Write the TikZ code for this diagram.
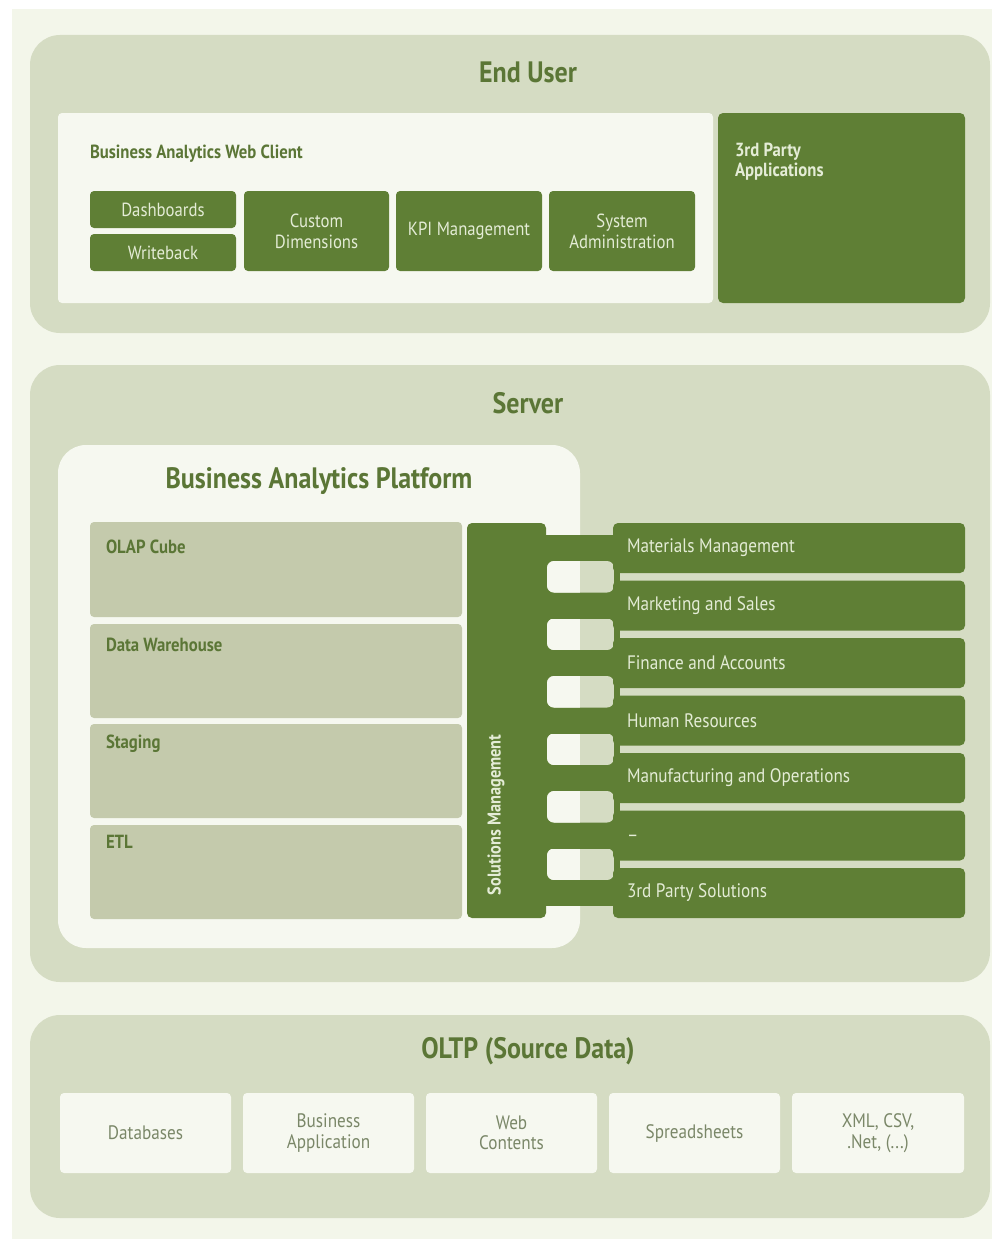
\documentclass[tikz,border=0pt]{standalone}
\usepackage{fontspec}
\setmainfont[FakeStretch=0.88]{PT Sans}
\definecolor{cream}{HTML}{F3F6EA}
\definecolor{sage}{HTML}{D5DCC3}
\definecolor{paper}{HTML}{F6F8F0}
\definecolor{dgreen}{HTML}{5F7F35}
\definecolor{btntext}{HTML}{E4ECD6}
\definecolor{titlegreen}{HTML}{5B7636}
\definecolor{grayg}{HTML}{C4CAAC}
\definecolor{srctext}{HTML}{7A8768}
\begin{document}
\begin{tikzpicture}[x=1pt,y=-1pt,
  every node/.style={inner sep=0pt, outer sep=0pt},
  panel/.style={fill=sage, rounded corners=30pt, anchor=north west},
  innerbox/.style={fill=paper, rounded corners=4pt, anchor=north west},
  gbtn/.style={fill=dgreen, rounded corners=4pt, anchor=north west, text=btntext, align=center, font=\fontsize{19}{21}\selectfont},
  graybox/.style={fill=grayg, rounded corners=4pt, anchor=north west},
  srcbox/.style={fill=paper, rounded corners=4pt, anchor=north west, text=srctext, align=center, font=\fontsize{19.5}{20.5}\selectfont},
  rbox/.style={fill=dgreen, rounded corners=5pt, anchor=north west, minimum width=352pt, minimum height=50pt},
  rlabel/.style={anchor=west, text=btntext, font=\fontsize{19.5}{21}\selectfont},
  ptitle/.style={text=titlegreen, font=\fontsize{29.5}{32}\selectfont\bfseries},
  slabel/.style={anchor=west, text=titlegreen, font=\fontsize{19}{21}\selectfont\bfseries}
]
\useasboundingbox (0,0) rectangle (992,1239);
\fill[white] (0,0) rectangle (992,1239);
\fill[cream] (12,9) rectangle (992,1239);

% ---------------- End User ----------------
\node[panel, minimum width=960pt, minimum height=298pt] (enduser) at (30,35) {};
\node[ptitle] (endusertitle) at (528,72) {End User};
\node[innerbox, minimum width=655pt, minimum height=190pt] (webclient) at (58,113) {};
\node[slabel] (webclientlabel) at (90,154) {Business Analytics Web Client};
\node[gbtn, minimum width=146pt, minimum height=37pt] (dash) at (90,191) {Dashboards};
\node[gbtn, minimum width=146pt, minimum height=37pt] (writeback) at (90,234) {Writeback};
\node[gbtn, minimum width=145pt, minimum height=80pt] (custom) at (244,191) {Custom\\Dimensions};
\node[gbtn, minimum width=146pt, minimum height=80pt] (kpi) at (396,191) {KPI Management};
\node[gbtn, minimum width=146pt, minimum height=80pt] (sysadmin) at (549,191) {System\\Administration};
\node[fill=dgreen, rounded corners=5pt, anchor=north west, minimum width=247pt, minimum height=190pt] (thirdapps) at (718,113) {};
\node[anchor=north west, text=btntext, align=left, font=\fontsize{19}{20}\selectfont\bfseries] (thirdappslabel) at (735,143) {3rd Party\\Applications};

% ---------------- Server ----------------
\node[panel, minimum width=960pt, minimum height=617pt] (server) at (30,365) {};
\node[ptitle] (servertitle) at (528,403) {Server};
\node[fill=paper, rounded corners=28pt, anchor=north west, minimum width=522pt, minimum height=503pt] (platform) at (58,445) {};
\node[text=titlegreen, font=\fontsize{29.5}{32}\selectfont\bfseries] (platformtitle) at (319,481) {Business Analytics Platform};

\node[graybox, minimum width=372pt, minimum height=95pt] (olap) at (90,522) {};
\node[graybox, minimum width=372pt, minimum height=94pt] (dw) at (90,624) {};
\node[graybox, minimum width=372pt, minimum height=94pt] (staging) at (90,724) {};
\node[graybox, minimum width=372pt, minimum height=94pt] (etl) at (90,825) {};
\node[slabel] (olaplabel) at (106,547) {OLAP Cube};
\node[slabel] (dwlabel) at (106,645) {Data Warehouse};
\node[slabel] (staginglabel) at (106,744) {Staging};
\node[slabel] (etllabel) at (106,842) {ETL};

% connector strip between bar and solution boxes, with rounded notches
\node[fill=dgreen, anchor=north west, minimum width=80pt, minimum height=371pt] (strip) at (540,535) {};
\foreach \t/\b in {561/592.5,618.5/650,676/707.5,733.5/765,791/822.5,848.5/880}{
  \begin{scope}
    \clip[rounded corners=7pt] (547,\t) rectangle (614,\b);
    \fill[sage] (547,\t) rectangle (614,\b);
    \fill[paper] (547,\t) rectangle (580,\b);
  \end{scope}
}
\node[fill=dgreen, rounded corners=5pt, anchor=north west, minimum width=79pt, minimum height=395pt] (bar) at (467,523) {};
\node[rotate=90, text=btntext, font=\fontsize{18.5}{20}\selectfont\bfseries] (barlabel) at (496,815) {Solutions Management};

\node[rbox] (mat) at (613,523) {};
\node[rbox] (mkt) at (613,580.5) {};
\node[rbox] (fin) at (613,638) {};
\node[rbox] (hr) at (613,695.5) {};
\node[rbox] (man) at (613,753) {};
\node[rbox] (dots) at (613,810.5) {};
\node[rbox] (tps) at (613,868) {};
\node[rlabel] (matlabel) at ([xshift=14pt]mat.west) {Materials Management};
\node[rlabel] (mktlabel) at ([xshift=14pt]mkt.west) {Marketing and Sales};
\node[rlabel] (finlabel) at ([xshift=14pt]fin.west) {Finance and Accounts};
\node[rlabel] (hrlabel) at ([xshift=14pt]hr.west) {Human Resources};
\node[rlabel] (manlabel) at ([xshift=14pt]man.west) {Manufacturing and Operations};
\node[rlabel] (dotslabel) at ([xshift=14pt,yshift=-3pt]dots.west) {--};
\node[rlabel] (tpslabel) at ([xshift=14pt]tps.west) {3rd Party Solutions};

% ---------------- OLTP ----------------
\node[panel, minimum width=960pt, minimum height=203pt] (oltp) at (30,1015) {};
\node[ptitle] (oltptitle) at (528,1051) {OLTP (Source Data)};
\node[srcbox, minimum width=171pt, minimum height=80pt] (db) at (60,1093) {Databases};
\node[srcbox, minimum width=171pt, minimum height=80pt] (bizapp) at (243,1093) {Business\\Application};
\node[srcbox, minimum width=171pt, minimum height=80pt] (web) at (426,1093) {Web\\Contents};
\node[srcbox, minimum width=171pt, minimum height=80pt] (sheets) at (609,1093) {Spreadsheets};
\node[srcbox, minimum width=172pt, minimum height=80pt] (xml) at (792,1093) {XML, CSV,\\.Net, (...)};
\end{tikzpicture}
\end{document}
